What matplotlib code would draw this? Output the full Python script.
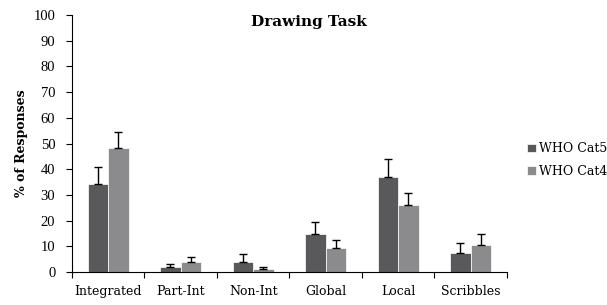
import matplotlib.pyplot as plt
import numpy as np

categories = ["Integrated", "Part-Int", "Non-Int", "Global", "Local", "Scribbles"]
cat5 = [34.2, 1.8, 3.8, 14.7, 37.1, 7.3]
cat5_err = [6.8, 1.3, 3.2, 4.6, 6.7, 4.1]
cat4 = [48.2, 3.8, 1.0, 9.2, 26.0, 10.5]
cat4_err = [6.1, 1.9, 0.8, 3.4, 4.9, 4.2]

plt.rcParams['font.family'] = ['DejaVu Serif']

fig = plt.figure(figsize=(6.07, 3.05), dpi=100)
ax = fig.add_axes([0.1186, 0.108, 0.7164, 0.843])

x = np.arange(len(categories))
w = 0.283
ax.bar(x - w / 2, cat5, w, color="#59595b", edgecolor="white", linewidth=0.5,
       yerr=[np.zeros(len(cat5)), cat5_err], capsize=3,
       error_kw=dict(elinewidth=1, capthick=1, ecolor="black"), label="WHO Cat5")
ax.bar(x + w / 2, cat4, w, color="#8b8b8d", edgecolor="white", linewidth=0.5,
       yerr=[np.zeros(len(cat4)), cat4_err], capsize=3,
       error_kw=dict(elinewidth=1, capthick=1, ecolor="black"), label="WHO Cat4")

ax.set_xlim(-0.5, len(categories) - 0.5)
ax.set_ylim(0, 100)
ax.set_yticks(np.arange(0, 101, 10))
ax.set_yticklabels([str(v) for v in range(0, 101, 10)], family="Liberation Serif",
                   fontsize=10.5)
ax.set_xticks(np.arange(-0.5, len(categories), 1.0))
ax.set_xticklabels([])
ax.set_xticks(x, minor=True)
ax.set_xticklabels(categories, minor=True, fontsize=9)
ax.tick_params(axis="x", which="minor", length=0, pad=9)
ax.tick_params(axis="x", which="major", length=4, direction="out")
ax.tick_params(axis="y", length=4, direction="out", pad=8)

for s in ["top", "right"]:
    ax.spines[s].set_visible(False)

ax.set_ylabel("% of Responses", fontsize=9, fontweight="bold", labelpad=4)
fig.text(0.509, 0.928, "Drawing Task", fontsize=11, fontweight="bold",
         ha="center", va="center")

fig.legend(loc="center left", bbox_to_anchor=(0.869, 0.475), frameon=False,
           fontsize=9, handlelength=0.65, handleheight=0.65, handletextpad=0.25,
           labelspacing=0.75, borderpad=0, borderaxespad=0)

fig.savefig("out.png", dpi=100)
